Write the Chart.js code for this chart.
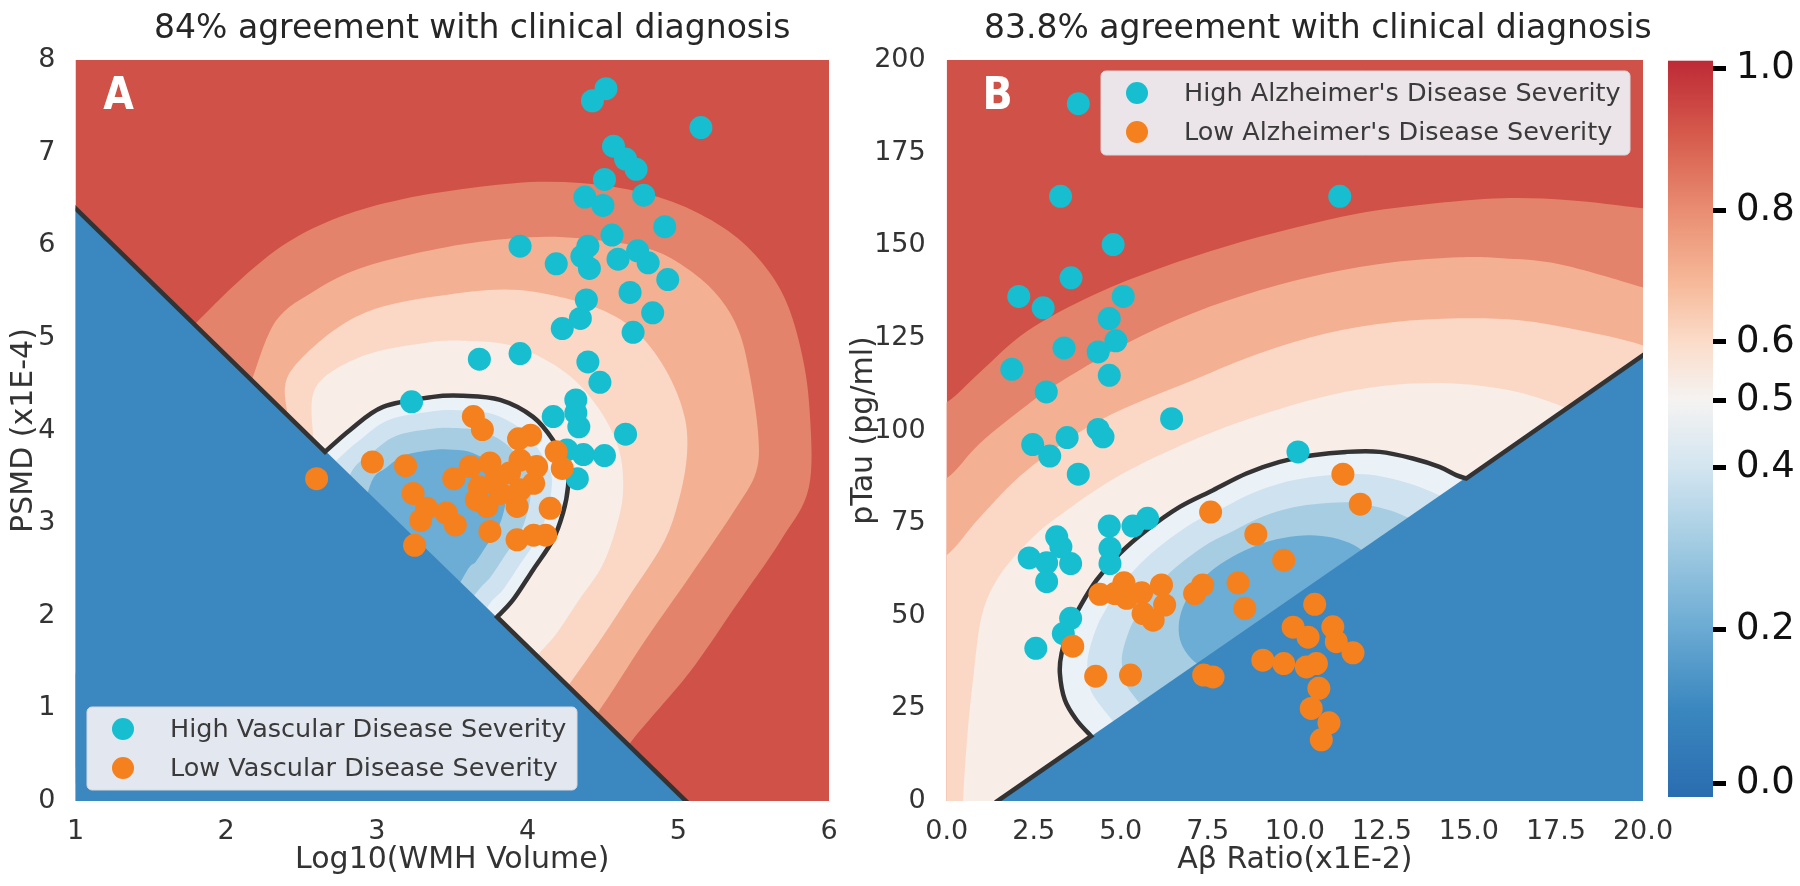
<!DOCTYPE html>
<html>
<head>
<meta charset="utf-8">
<script src="https://cdn.jsdelivr.net/npm/chart.js@4.4.1/dist/chart.umd.min.js"></script>
<style>
  html, body { margin: 0; padding: 0; background: #fff; }
  #wrap { position: relative; width: 1800px; height: 886px; overflow: hidden; }
  canvas { position: absolute; top: 0; }
</style>
</head>
<body>
<div id="wrap">
  <canvas id="chartA" width="845" height="886" style="left:0"></canvas>
  <canvas id="chartB" width="860" height="886" style="left:830px"></canvas>
  <canvas id="cbar" width="145" height="886" style="left:1655px"></canvas>
</div>
<script>
// ---------- panel A : Log10(WMH volume) vs PSMD ----------
const vascularHigh = [[4.52,7.69],[4.43,7.56],[5.15,7.27],[4.57,7.07],[4.65,6.93],[4.72,6.82],[4.51,6.71],[4.38,6.52],
  [4.77,6.54],[4.50,6.43],[4.91,6.20],[4.56,6.11],[3.95,5.99],[4.40,5.99],[4.36,5.88],[4.73,5.94],[4.19,5.80],
  [4.41,5.75],[4.60,5.85],[4.80,5.81],[4.93,5.63],[4.68,5.49],[4.39,5.41],[4.83,5.27],[4.35,5.21],[4.23,5.10],
  [4.70,5.06],[3.68,4.77],[3.95,4.83],[4.40,4.74],[4.48,4.52],[4.32,4.33],[3.23,4.31],[4.32,4.19],[4.17,4.15],
  [4.34,4.04],[4.65,3.96],[4.26,3.79],[4.37,3.74],[4.51,3.73],[4.33,3.48]];
const vascularLow = [[3.64,4.15],[3.70,4.01],[4.02,3.95],[3.94,3.91],[4.19,3.77],[4.23,3.59],[2.97,3.66],[3.19,3.62],
  [2.60,3.48],[3.51,3.48],[3.62,3.61],[3.75,3.65],[3.88,3.54],[3.95,3.68],[4.06,3.61],[4.04,3.43],[3.68,3.39],
  [3.82,3.32],[3.95,3.36],[3.24,3.32],[3.73,3.18],[3.93,3.18],[4.15,3.16],[3.33,3.16],[3.29,3.03],[3.46,3.11],
  [3.52,2.98],[3.75,2.91],[3.93,2.82],[4.04,2.87],[4.12,2.87],[3.25,2.76],[3.79,3.47],[3.66,3.25]];

const xTicksA = [1, 2, 3, 4, 5, 6];
const yTicksA = [0, 1, 2, 3, 4, 5, 6, 7, 8];

// probability contours of panel A, outermost first (each edge closes through the low corner)
const levelsA = [
  [[1.793,5.151],[2.092,5.626],[2.403,6.026],[2.755,6.307],[3.167,6.497],[3.684,6.631],[4.129,6.685],[4.567,6.631],
   [4.960,6.470],[5.300,6.190],[5.530,5.860],[5.700,5.450],[5.810,4.900],[5.870,4.250],[5.867,3.391],[5.682,2.819],
   [5.376,2.095],[5.071,1.382],[4.686,0.637],[4.480,0.119]],
  [[2.171,4.546],[2.330,5.184],[2.596,5.518],[2.881,5.745],[3.246,5.907],[3.684,6.037],[4.129,6.091],[4.547,6.037],
   [4.860,5.930],[5.100,5.700],[5.280,5.420],[5.400,5.080],[5.470,4.640],[5.529,3.985],[5.516,3.553],[5.370,3.132],
   [5.078,2.430],[4.786,1.749],[4.460,0.940],[4.215,0.443]],
  [[2.403,4.190],[2.430,4.644],[2.861,5.227],[3.419,5.454],[4.042,5.497],[4.693,5.108],[5.045,4.125],[4.965,3.035],
   [4.666,2.192],[4.268,1.242],[4.016,0.767]],
  [[2.576,3.931],[2.596,4.471],[2.908,4.806],[3.319,4.946],[3.584,4.968],[3.923,4.903],[4.255,4.622],[4.474,4.233],
   [4.607,3.790],[4.633,3.337],[4.587,2.948],[4.494,2.538],[4.341,2.171],[4.189,1.803],[4.062,1.566],[3.817,1.091]],
  [[2.656,3.769],[2.822,4.006],[3.041,4.255],[3.373,4.363],[3.572,4.374],[3.817,4.330],[4.036,4.147],[4.168,3.898],
   [4.261,3.607],[4.268,3.391],[4.235,3.110],[4.168,2.819],[4.036,2.495],[3.903,2.171],[3.797,1.987]],
  [[2.622,3.467],[2.739,3.687],[2.885,3.896],[3.078,4.114],[3.370,4.209],[3.545,4.219],[3.761,4.181],[3.954,4.019],
   [4.070,3.801],[4.153,3.544],[4.158,3.354],[4.129,3.108],[4.070,2.851],[3.954,2.566],[3.837,2.281],[3.744,2.119],
   [3.618,1.739]],
  [[2.755,3.251],[2.843,3.585],[2.965,3.758],[3.125,3.940],[3.367,4.018],[3.512,4.027],[3.691,3.996],[3.851,3.861],
   [3.948,3.680],[4.016,3.467],[4.021,3.309],[3.997,3.105],[3.948,2.891],[3.851,2.654],[3.754,2.419],[3.677,2.284],
   [3.518,1.954]],
  [[2.888,3.035],[2.969,3.463],[3.060,3.594],[3.180,3.730],[3.364,3.789],[3.473,3.796],[3.608,3.772],[3.729,3.671],
   [3.802,3.535],[3.853,3.374],[3.856,3.255],[3.838,3.100],[3.802,2.940],[3.729,2.761],[3.656,2.583],[3.597,2.483],
   [3.419,1.955]]
];
const closeA = [[0.5, -1]];
const lowSideA = [[0.9, 6.558], [5.15, -0.158], [0.9, -0.3]];
const boundaryA = { from: [0.9, 6.558], arc: levelsA[4], to: [5.15, -0.158] };

// ---------- panel B : Abeta ratio vs pTau ----------
const alzHigh = [[3.78,188.2],[3.27,163.2],[11.29,163.2],[4.78,150.2],[3.57,141.2],[2.07,136.2],[5.07,136.2],[2.77,133.1],
  [4.67,130.2],[4.86,124.2],[3.37,122.3],[4.35,121.2],[1.87,116.5],[4.67,114.9],[2.86,110.4],[6.46,103.2],[4.35,100.3],
  [4.49,98.3],[3.46,98.1],[2.47,96.2],[2.96,93.1],[10.09,94.2],[3.78,88.2],[4.67,74.2],[5.35,74.2],[5.77,76.3],
  [3.16,71.3],[3.28,68.6],[4.69,68.2],[2.37,65.6],[2.87,64.3],[3.56,64.1],[4.69,64.1],[2.87,59.2],[3.56,49.3],
  [3.35,45.2],[2.56,41.2]];
const alzLow = [[11.38,88.2],[11.88,80.1],[7.58,78.0],[8.88,72.0],[9.68,65.0],[8.37,58.9],[7.35,58.3],[7.12,56.0],
  [6.17,58.3],[5.09,58.9],[4.40,55.8],[4.83,56.0],[5.60,56.2],[5.17,54.7],[6.26,52.9],[5.64,50.6],[5.93,48.8],
  [8.56,52.0],[10.57,53.1],[9.95,46.9],[10.38,44.2],[11.09,47.0],[11.19,43.0],[11.67,40.0],[3.62,41.8],[9.08,38.0],
  [9.68,37.1],[10.33,36.2],[10.62,37.1],[4.28,33.7],[5.28,34.0],[7.38,34.0],[7.65,33.5],[10.69,30.4],[10.47,25.0],
  [10.98,21.1],[10.76,16.5]];

const xTicksB = [0, 2.5, 5, 7.5, 10, 12.5, 15, 17.5, 20];
const xTickLabelsB = ['0.0', '2.5', '5.0', '7.5', '10.0', '12.5', '15.0', '17.5', '20.0'];
const yTicksB = [0, 25, 50, 75, 100, 125, 150, 175, 200];

const levelsB = [
  [[-1,104],[0,107.63],[0.956,115.73],[2.304,126.79],[4.198,136.50],[6.121,143.78],[8.043,149.72],[9.937,154.57],
   [11.859,158.62],[13.782,161.05],[15.963,162.67],[17.885,162.13],[19.980,159.97],[21.615,158.08]],
  [[-1,84],[0,87.13],[0.956,96.57],[2.304,106.83],[3.251,113.03],[5.174,123.55],[7.068,131.64],[8.990,137.85],
   [10.913,142.43],[12.807,145.40],[14.729,146.75],[15.963,146.48],[17.598,144.87],[19.980,138.66],[21.615,133.80]],
  [[-1,62],[0,66.36],[0.956,76.61],[2.304,89.29],[4.399,102.78],[7.068,113.57],[8.990,120.85],[10.913,126.25],
   [12.807,129.21],[14.729,130.29],[16.451,129.75],[18.173,127.05],[19.980,123.01],[21.615,116.27]],
  [[0.45,-5],[0.468,0],[0.582,16.46],[0.755,32.64],[1.013,50.18],[1.529,60.97],[2.390,70.41],[3.251,77.15],
   [4.973,87.94],[7.068,97.38],[8.990,104.13],[10.999,109.52],[12.721,112.22],[14.443,112.75],[16.164,110.87],
   [17.598,106.83],[18.745,101.43]],
  [[4.15,17.5],[3.730,21.85],[3.395,27.25],[3.251,34.45],[3.300,39.84],[3.538,47.02],[3.825,52.41],[4.304,59.62],
   [4.973,66.82],[5.739,73.10],[6.694,79.39],[7.650,83.90],[8.608,88.40],[9.564,91.53],[10.519,93.34],[11.478,94.23],
   [12.433,94.23],[13.389,92.45],[14.155,90.18],[14.634,87.94],[14.921,87.05]],
  [[5.260,16.46],[4.801,21.28],[4.169,29.19],[4.043,35.53],[4.086,40.27],[4.296,46.59],[4.548,51.34],[4.970,57.67],
   [5.558,64.01],[6.232,69.54],[7.073,75.07],[7.914,79.04],[8.757,83.00],[9.598,85.76],[10.439,87.35],[11.283,88.13],
   [12.123,88.13],[12.964,86.57],[13.638,84.57],[14.313,81.82]],
  [[6.120,20.50],[5.661,25.06],[5.136,31.62],[5.033,36.88],[5.067,40.81],[5.242,46.05],[5.452,49.99],[5.802,55.25],
   [6.290,60.51],[6.849,65.09],[7.547,69.68],[8.244,72.97],[8.944,76.26],[9.641,78.55],[10.339,79.88],[11.039,80.52],
   [11.736,80.52],[12.433,79.20],[12.993,77.56],[13.552,75.26]]
];
const coreB = [[12.396,62.02],[12.341,52.36],[11.541,42.68],[10.212,35.61],[8.712,32.96],[7.435,35.58],[6.732,42.65],
  [6.786,52.31],[7.587,61.99],[8.915,69.06],[10.416,71.70],[11.693,69.09]];
const closeOuterB = [[23, -20], [-2, -20]];
const closeInnerB = [[21, 0]];
const lowSideB = [[1.4, -0.389], [20.1, 120.95], [20.1, -1]];
const boundaryB = { from: [1.4, -0.389], arc: levelsB[4], to: [20.1, 120.95] };

// colour bar
const cbarTickPos = [0.019, 0.227, 0.448, 0.539, 0.618, 0.797, 0.989];
const cbarTickLabels = ['0.0', '0.2', '0.4', '0.5', '0.6', '0.8', '1.0'];

// ---------- styling ----------
const red = '#d05147', lowBlue = '#3b87bf';
const bandColors = ['#e4836b', '#f4b093', '#fad8c5', '#f8ede7', '#eaf1f7', '#cfe2ef', '#a7cde3', '#6badd4'];
const cyan = '#17becf', orange = '#f5801e';
const ink = '#333333';
const sans = "'DejaVu Sans', 'Noto Sans', sans-serif";

function smoothTo(ctx, p, start) {
  // Catmull-Rom spline through the points
  if (start) ctx.moveTo(p[0][0], p[0][1]); else ctx.lineTo(p[0][0], p[0][1]);
  for (let i = 0; i < p.length - 1; i++) {
    const p0 = p[i - 1] || p[i], p1 = p[i], p2 = p[i + 1], p3 = p[i + 2] || p2;
    ctx.bezierCurveTo(p1[0] + (p2[0] - p0[0]) / 6, p1[1] + (p2[1] - p0[1]) / 6,
      p2[0] - (p3[0] - p1[0]) / 6, p2[1] - (p3[1] - p1[1]) / 6, p2[0], p2[1]);
  }
}
function smoothLoop(ctx, p) {
  const n = p.length;
  ctx.moveTo(p[0][0], p[0][1]);
  for (let i = 0; i < n; i++) {
    const p0 = p[(i - 1 + n) % n], p1 = p[i], p2 = p[(i + 1) % n], p3 = p[(i + 2) % n];
    ctx.bezierCurveTo(p1[0] + (p2[0] - p0[0]) / 6, p1[1] + (p2[1] - p0[1]) / 6,
      p2[0] - (p3[0] - p1[0]) / 6, p2[1] - (p3[1] - p1[1]) / 6, p2[0], p2[1]);
  }
}

function surface(bands, lowSide, boundary) {
  return {
    id: 'surface',
    beforeDatasetsDraw(chart) {
      const { ctx, chartArea: a, scales } = chart;
      const toPx = p => [scales.x.getPixelForValue(p[0]), scales.y.getPixelForValue(p[1])];
      ctx.save();
      ctx.beginPath();
      ctx.rect(a.left, a.top, a.width, a.height);
      ctx.clip();
      ctx.fillStyle = red;
      ctx.fillRect(a.left, a.top, a.width, a.height);
      bands.forEach((b, i) => {
        ctx.beginPath();
        if (b.loop) {
          smoothLoop(ctx, b.edge.map(toPx));
        } else {
          smoothTo(ctx, b.edge.map(toPx), true);
          b.close.map(toPx).forEach(q => ctx.lineTo(q[0], q[1]));
        }
        ctx.closePath();
        ctx.fillStyle = bandColors[i];
        ctx.fill();
      });
      ctx.beginPath();
      lowSide.map(toPx).forEach((q, i) => i ? ctx.lineTo(q[0], q[1]) : ctx.moveTo(q[0], q[1]));
      ctx.closePath();
      ctx.fillStyle = lowBlue;
      ctx.fill();
      const s = toPx(boundary.from), e = toPx(boundary.to);
      ctx.beginPath();
      ctx.moveTo(s[0], s[1]);
      smoothTo(ctx, boundary.arc.map(toPx), false);
      ctx.lineTo(e[0], e[1]);
      ctx.lineWidth = 4.5;
      ctx.strokeStyle = '#333333';
      ctx.lineJoin = 'miter';
      ctx.stroke();
      ctx.restore();
    }
  };
}

function overlay(heading, headingDx, letter, letterDx, legendBox) {
  return {
    id: 'overlay',
    afterDatasetsDraw(chart) {
      const { ctx, chartArea: a } = chart;
      ctx.save();
      // heading above the axes
      ctx.fillStyle = '#262626';
      ctx.font = '33px ' + sans;
      ctx.textAlign = 'center';
      ctx.textBaseline = 'alphabetic';
      ctx.fillText(heading, (a.left + a.right) / 2 + headingDx, 38);
      // panel letter
      ctx.fillStyle = '#ffffff';
      ctx.font = "bold 44px 'Liberation Sans Narrow', 'DejaVu Sans Condensed', 'DejaVu Sans', sans-serif";
      ctx.textBaseline = 'middle';
      ctx.fillText(letter, a.left + letterDx, a.top + 38);
      // legend
      const { w, h } = legendBox;
      const x0 = legendBox.right ? a.right - legendBox.right - w : a.left + legendBox.left;
      const y0 = legendBox.bottom ? a.bottom - legendBox.bottom - h : a.top + legendBox.top;
      ctx.beginPath();
      ctx.roundRect(x0, y0, w, h, 5);
      ctx.fillStyle = 'rgba(236,236,242,0.95)';
      ctx.fill();
      ctx.lineWidth = 1;
      ctx.strokeStyle = '#d8d8de';
      ctx.stroke();
      ctx.font = '25.5px ' + sans;
      ctx.textAlign = 'left';
      const ds = chart.data.datasets.slice().sort((p, q) => q.order - p.order);
      ds.forEach((d, i) => {
        const cy = y0 + 22 + i * 39;
        ctx.beginPath();
        ctx.arc(x0 + 36, cy, 11, 0, Math.PI * 2);
        ctx.fillStyle = d.backgroundColor;
        ctx.fill();
        ctx.fillStyle = '#3a3a3a';
        ctx.fillText(d.label, x0 + 83, cy + 1);
      });
      ctx.restore();
    }
  };
}

function axis(dir, min, max, ticks, labels, size, title, titlePad, tickPad) {
  return {
    type: 'linear', min, max,
    afterBuildTicks: s => { s.ticks = ticks.map(v => ({ value: v })); },
    afterFit: s => { if (dir === 'x') s.height = size; else s.width = size; },
    grid: { display: false },
    border: { display: false },
    ticks: {
      color: ink, font: { family: sans, size: 27 }, padding: tickPad, maxRotation: 0, autoSkip: false,
      callback: (v, i) => labels ? labels[i] : String(v)
    },
    title: { display: true, text: title, color: ink, font: { family: sans, size: 30 }, padding: titlePad }
  };
}

function scatterChart(id, high, low, labels, scales, plugins, rightPad) {
  return new Chart(document.getElementById(id), {
    type: 'scatter',
    data: {
      datasets: [
        { label: labels[0], data: high.map(([x, y]) => ({ x, y })), backgroundColor: cyan, borderWidth: 0, pointRadius: 11.5, order: 1 },
        { label: labels[1], data: low.map(([x, y]) => ({ x, y })), backgroundColor: orange, borderWidth: 0, pointRadius: 11.5, order: 0 }
      ]
    },
    options: {
      responsive: false, animation: false, events: [],
      layout: { padding: { left: 0, right: rightPad, top: 60, bottom: 0 } },
      scales,
      plugins: { legend: { display: false }, tooltip: { enabled: false } }
    },
    plugins
  });
}

const bandsA = levelsA.map(edge => ({ edge, close: closeA }));
scatterChart('chartA', vascularHigh, vascularLow,
  ['High Vascular Disease Severity', 'Low Vascular Disease Severity'],
  {
    x: axis('x', 1, 6, xTicksA, null, 85, 'Log10(WMH Volume)', { bottom: 8 }, 7),
    y: axis('y', 0, 8, yTicksA, null, 75.5, 'PSMD (x1E-4)', { top: 6 }, 12)
  },
  [surface(bandsA, lowSideA, boundaryA),
   overlay('84% agreement with clinical diagnosis', 20, 'A', 43, { left: 11.5, bottom: 11, w: 490, h: 83 })], 16);

const bandsB = levelsB.map((edge, i) => ({ edge, close: i < 4 ? closeOuterB : closeInnerB }));
bandsB.push({ edge: coreB, loop: true });
scatterChart('chartB', alzHigh, alzLow,
  ["High Alzheimer's Disease Severity", "Low Alzheimer's Disease Severity"],
  {
    x: axis('x', 0, 20, xTicksB, xTickLabelsB, 85, 'A\u03B2 Ratio(x1E-2)', { bottom: 8 }, 7),
    y: axis('y', 0, 200, yTicksB, null, 116.7, 'pTau (pg/ml)', { top: 16 }, 13)
  },
  [surface(bandsB, lowSideB, boundaryB),
   overlay('83.8% agreement with clinical diagnosis', 23, 'B', 51, { right: 13, top: 11, w: 529, h: 84 })], 47);

// colour bar
const cbarStops = [[0, '#2a6db0'], [0.12, '#3a87bf'], [0.227, '#6aaad3'], [0.35, '#a5cde3'], [0.448, '#d3e5f0'],
  [0.539, '#f5f3f2'], [0.618, '#fbdcc9'], [0.70, '#f6b898'], [0.797, '#e98d71'], [0.90, '#d65a4c'], [1, '#bd2a36']];
new Chart(document.getElementById('cbar'), {
  type: 'scatter',
  data: { datasets: [] },
  options: {
    responsive: false, animation: false, events: [],
    layout: { padding: { left: 13, right: 0, top: 60.7, bottom: 89 } },
    scales: {
      x: { display: false, min: 0, max: 1 },
      y: {
        position: 'right', min: 0, max: 1,
        afterBuildTicks: s => { s.ticks = cbarTickPos.map(v => ({ value: v })); },
        afterFit: s => { s.width = 87; },
        border: { display: false },
        grid: { drawOnChartArea: false, drawTicks: true, tickLength: 13, tickWidth: 5, tickColor: '#000000' },
        ticks: { color: '#111111', font: { family: sans, size: 37 }, padding: 10, callback: (v, i) => cbarTickLabels[i] }
      }
    },
    plugins: { legend: { display: false }, tooltip: { enabled: false } }
  },
  plugins: [{
    id: 'ramp',
    beforeDraw(chart) {
      const { ctx, chartArea: a } = chart;
      const g = ctx.createLinearGradient(0, a.bottom, 0, a.top);
      cbarStops.forEach(([t, c]) => g.addColorStop(t, c));
      ctx.fillStyle = g;
      ctx.fillRect(a.left, a.top, a.width, a.height);
    }
  }]
});
</script>
</body>
</html>
